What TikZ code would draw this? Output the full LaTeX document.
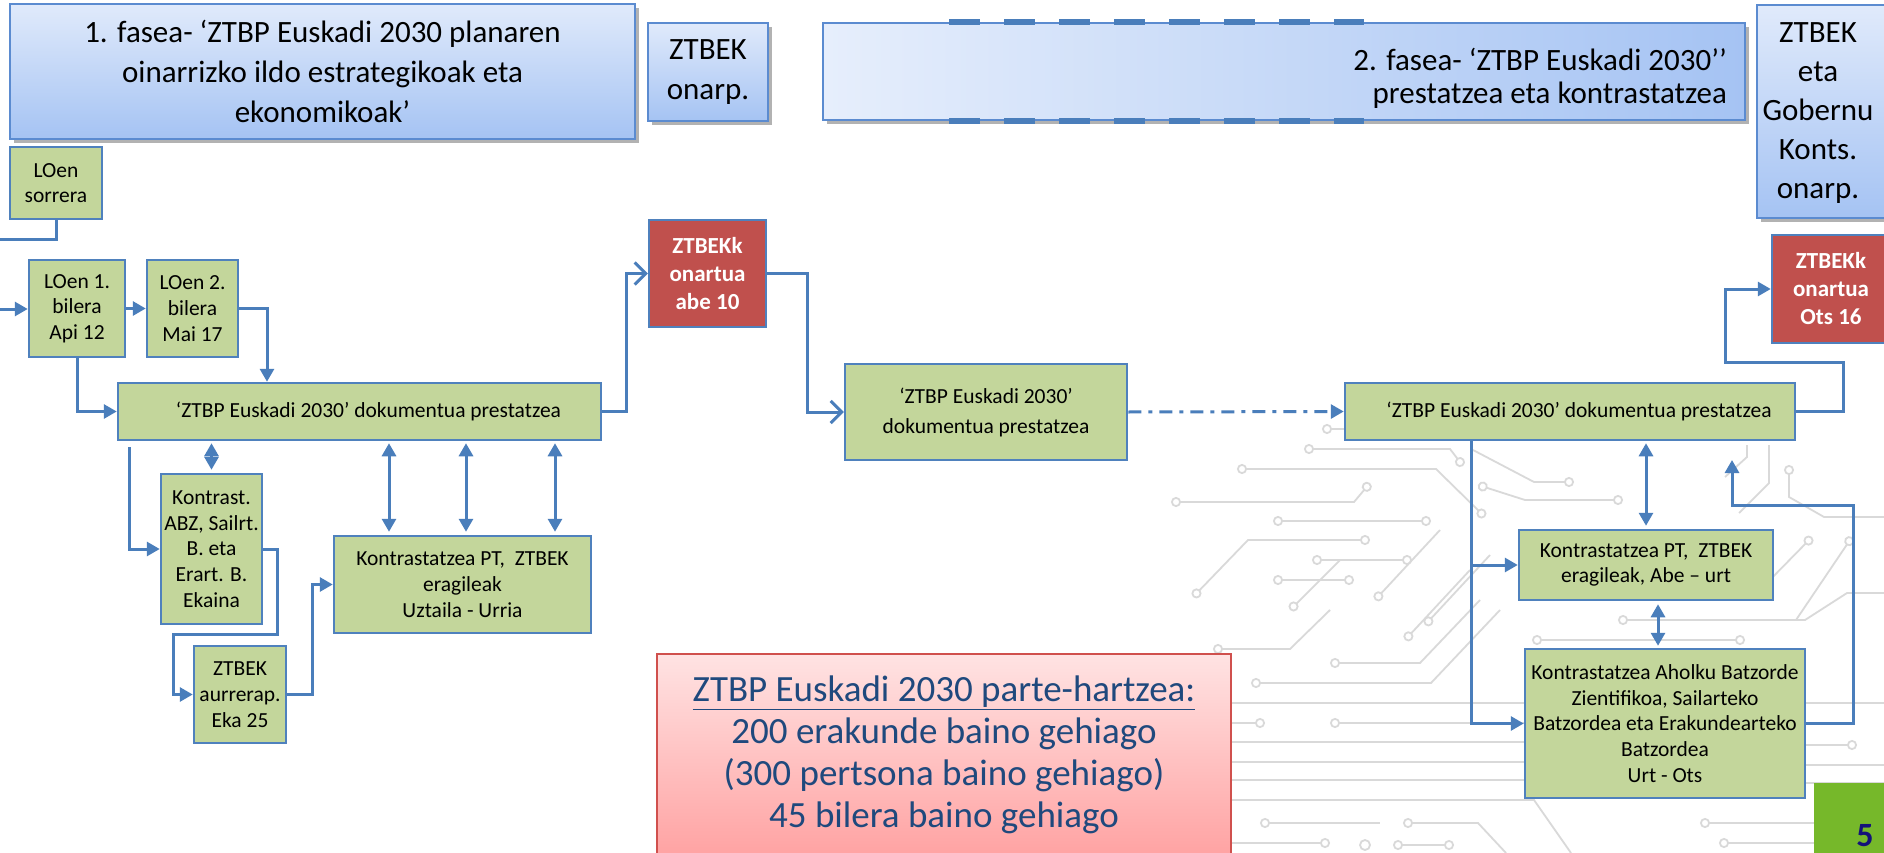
\documentclass[tikz,border=0pt]{standalone}
\usepackage{fontspec}
\setmainfont{Carlito}
\usetikzlibrary{arrows.meta,shadows,calc}
\definecolor{gfill}{HTML}{C3D69B}
\definecolor{bord}{HTML}{4F81BD}
\definecolor{cblue}{HTML}{4A7EBB}
\definecolor{rfill}{HTML}{C0504D}
\definecolor{ptop}{HTML}{E0EAFB}
\definecolor{pbot}{HTML}{A5C3F3}
\definecolor{pbord}{HTML}{5B8BD0}
\definecolor{pinktop}{HTML}{FFE3E3}
\definecolor{pinkbot}{HTML}{FF9E9E}
\definecolor{pinkbord}{HTML}{D0504D}
\definecolor{ptext}{HTML}{1F497D}
\definecolor{fivefill}{HTML}{76B82A}
\definecolor{fivetext}{HTML}{14127A}
\definecolor{cgray}{HTML}{D9D9D9}
\tikzset{
  oc/.tip={Circle[open,length=10pt,width=10pt,fill=white]},
  ckt/.style={draw=cgray, line width=1.8pt},
  gbox/.style={draw=bord, line width=2.5pt, fill=gfill, align=center, inner sep=0pt,
    font=\fontsize{21.5}{25.7}\selectfont, text=black},
  rbox/.style={draw=bord, line width=2.5pt, fill=rfill, align=center, inner sep=0pt,
    text=white, font=\bfseries\fontsize{23}{28}\selectfont},
  pbox/.style={draw=pbord, line width=2pt, top color=ptop, bottom color=pbot,
    drop shadow={shadow xshift=4pt, shadow yshift=-4pt, opacity=0.3, fill=black},
    align=center, inner sep=0pt, font=\fontsize{31}{40}\selectfont},
  conn/.style={draw=cblue, line width=3pt},
  arr/.style={conn, -{Triangle[length=13pt,width=14pt]}},
  darr/.style={conn, {Triangle[length=13pt,width=14pt]}-{Triangle[length=13pt,width=14pt]}, shorten <=3pt, shorten >=2pt},
  oarr/.style={conn, -{Straight Barb[length=11pt,width=22pt]}},
}
\begin{document}
\begin{tikzpicture}[x=1pt,y=-1pt]
\useasboundingbox (0,0) rectangle (1884,853);
\fill[white] (0,0) rectangle (1884,853);

% ---- circuit background ----
\draw[ckt, oc-oc] (1304,449) -- (1450,449) -- (1463,466);
\draw[ckt, oc-oc] (1237,469) -- (1436,469) -- (1485,517);
\draw[ckt, oc-oc] (1171,502) -- (1354,502) -- (1370,483);
\draw[ckt, oc-oc] (1273,521) -- (1431,521);
\draw[ckt, oc-oc] (1370,540) -- (1248,540) -- (1193,597);
\draw[ckt, oc-oc] (1312,560) -- (1412,560);
\draw[ckt, oc-oc] (1273,580) -- (1354,580);
\draw[ckt, oc-] (1322,429) -- (1345,429);
\draw[ckt, oc-] (1330,663) -- (1420,663) -- (1480,600);
\draw[ckt, oc-] (1251,683) -- (1431,683) -- (1500,610);
\draw[ckt, oc-] (1181,686) -- (1231,686);
\draw[ckt, oc-] (1213,649) -- (1290,649) -- (1330,610);
\draw[ckt] (1231,703) -- (1525,703);
\draw[ckt, -oc] (1231,723) -- (1265,723);
\draw[ckt, oc-] (1330,723) -- (1525,723);
\draw[ckt] (1231,742) -- (1525,742);
\draw[ckt] (1231,762) -- (1525,762);
\draw[ckt] (1231,780) -- (1525,780);
\draw[ckt] (1231,800) -- (1534,800) -- (1571,853);
\draw[ckt, oc-] (1403,823) -- (1478,823) -- (1506,853);
\draw[ckt, oc-] (1700,823) -- (1815,823);
\draw[ckt, oc-] (1719,843) -- (1815,843);
\draw[ckt, oc-oc] (1393,845) -- (1454,845);
\draw[ckt] (1365,845) circle (5);
\draw[ckt, oc-] (1260,823) -- (1380,823);
\draw[ckt, -oc] (1231,843) -- (1330,843);
\draw[ckt, -oc] (1473,450) -- (1534,482) -- (1574,482);
\draw[ckt, oc-oc] (1478,485) -- (1525,500) -- (1623,500);
\draw[ckt, oc-] (1789,465) -- (1789,497) -- (1824,517) -- (1884,517);
\draw[ckt] (1747,445) -- (1747,457) -- (1725,477);
\draw[ckt] (1769,445) -- (1769,483) -- (1739,513);
\draw[ckt, oc-] (1812,537) -- (1763,587) -- (1700,587);
\draw[ckt, oc-] (1852,537) -- (1796,620);
\draw[ckt, oc-] (1618,620) -- (1805,620) -- (1847,593) -- (1884,593);
\draw[ckt, oc-oc] (1532,640) -- (1745,640);
\draw[ckt, -oc] (1805,745) -- (1857,745);
\draw[ckt] (1805,703) -- (1884,703);
\draw[ckt] (1805,765) -- (1884,765);
\draw[ckt] (1805,783) -- (1884,783);
\draw[ckt, oc-] (1405,640) -- (1470,570);
\draw[ckt, oc-] (1425,625) -- (1490,555);
\draw[ckt, oc-] (1375,600) -- (1440,530);
\draw[ckt, oc-] (1290,610) -- (1340,560);

% ---- top phase boxes ----
\node[pbox, minimum width=625pt, minimum height=135pt] (ph1) at (322.5,71.5)
  {1. fasea- ‘ZTBP Euskadi 2030 planaren\\oinarrizko ildo estrategikoak eta\\ekonomikoak’};
\node[pbox, minimum width=120pt, minimum height=98pt] (on1) at (708,72) {ZTBEK\\onarp.};
\node[pbox, shading angle=0, left color=ptop!80!white, right color=pbot, minimum width=922pt, minimum height=97pt] (ph2) at (1284,71.5) {};
\node[anchor=east, align=right, inner sep=0pt, font=\fontsize{31}{33}\selectfont] (ph2t) at (1727,78.5)
  {2. fasea- ‘ZTBP Euskadi 2030’’\\prestatzea eta kontrastatzea};
\draw[cblue, line width=6pt, dash pattern=on 31pt off 24pt] (ph2.north -| 949,0) -- (ph2.north -| 1364,0);
\draw[cblue, line width=6pt, dash pattern=on 31pt off 24pt] (ph2.south -| 949,0) -- (ph2.south -| 1364,0);
\node[pbox, minimum width=146pt, minimum height=213pt] (on2) at (1830,111.5) {};
\node[align=center, inner sep=0pt, font=\fontsize{31}{39}\selectfont] (on2t) at (1818,113)
  {ZTBEK\\eta\\Gobernu\\Konts.\\onarp.};

% ---- left flow ----
\node[gbox, minimum width=92pt, minimum height=72pt] (sor) at (56,183) {LOen\\sorrera};
\node[gbox, minimum width=96pt, minimum height=97pt] (lo1) at (77,308.5) {LOen 1.\\bilera\\Api 12};
\node[gbox, minimum width=91pt, minimum height=97pt] (lo2) at (192.5,308.5) {LOen 2.\\bilera\\Mai 17};
\node[gbox, minimum width=483pt, minimum height=57pt] (doc1) at (359.5,411.5) {\hspace*{18pt}‘ZTBP Euskadi 2030’ dokumentua prestatzea};
\node[rbox, minimum width=117pt, minimum height=107pt] (red1) at (707.5,273.5) {ZTBEKk\\onartua\\abe 10};
\node[gbox, minimum width=101pt, minimum height=150pt] (kon) at (211.5,549) {Kontrast.\\ABZ, Sailrt.\\B. eta\\Erart. B.\\Ekaina};
\node[gbox, minimum width=92pt, minimum height=97pt] (aur) at (240,694.5) {ZTBEK\\aurrerap.\\Eka 25};
\node[gbox, minimum width=257pt, minimum height=97pt] (kpt) at (462.5,584.5) {Kontrastatzea PT,~ ZTBEK\\eragileak\\Uztaila - Urria};

% ---- middle / right flow ----
\node[gbox, font=\fontsize{21.5}{30}\selectfont, minimum width=282pt, minimum height=96pt] (doc2) at (986,412) {‘ZTBP Euskadi 2030’\\dokumentua prestatzea};
\node[gbox, minimum width=450pt, minimum height=57pt] (doc3) at (1570,411.5) {\hspace*{18pt}‘ZTBP Euskadi 2030’ dokumentua prestatzea};
\node[rbox, minimum width=118pt, minimum height=108pt] (red2) at (1831,289) {ZTBEKk\\onartua\\Ots 16};
\node[gbox, minimum width=254pt, minimum height=70pt] (abe) at (1646,565) {Kontrastatzea PT,~ ZTBEK\\eragileak, Abe – urt};
\node[gbox, minimum width=280pt, minimum height=149pt] (ahol) at (1665,723.5) {Kontrastatzea Aholku Batzorde\\Zientifikoa, Sailarteko\\Batzordea eta Erakundearteko\\Batzordea\\Urt - Ots};

% ---- participation box ----
\node[draw=pinkbord, line width=1.5pt, top color=pinktop, bottom color=pinkbot, inner sep=0pt,
  minimum width=574pt, minimum height=216pt] (part) at (944,762) {};
\node[align=center, inner sep=0pt, text=ptext, font=\fontsize{37}{42}\selectfont] (partt) at (944,755)
  {\underline{ZTBP Euskadi 2030 parte-hartzea:}\\200 erakunde baino gehiago\\(300 pertsona baino gehiago)\\45 bilera baino gehiago};

% ---- page number ----
\node[fill=fivefill, inner sep=0pt, minimum width=80pt, minimum height=80pt] (five) at (1854,823) {};
\node[inner sep=0pt, text=fivetext, font=\bfseries\fontsize{34}{34}\selectfont] (fivet) at (1865,836) {5};

% ---- helper coordinates ----
\coordinate (offA) at (0,239);
\coordinate (offB) at (0,309);
\coordinate (x267) at (267,0);
\coordinate (s1) at (129,447);
\coordinate (k2) at (277,634);
\coordinate (k3) at (173,634);
\coordinate (d1) at (389,0);
\coordinate (d2) at (466,0);
\coordinate (d3) at (555,0);
\coordinate (q1) at (1843,362);
\coordinate (q2) at (1725,362);
\coordinate (v1) at (1471,0);
\coordinate (r1) at (1853,505);
\coordinate (r2) at (1732,505);
\coordinate (r3) at (1732,460);
\coordinate (w1) at (1658,0);

% ---- connectors ----
\draw[conn] (sor.south) |- (offA);
\draw[arr] (offB) -- (lo1.west |- offB);
\draw[arr] (lo1.east) -- (lo2.west);
\draw[arr] (lo2.east) -| (x267 |- doc1.north);
\draw[arr] (lo1.south) |- (doc1.west);
\draw[oarr] (doc1.east) -- ++(24,0) |- (red1.west);
\draw[oarr] (red1.east) -- ++(40,0) |- (doc2.west);
\draw[conn, dash pattern=on 13pt off 7pt on 4pt off 7pt, -{Triangle[length=13pt,width=14pt]}] (doc2.east) -- (doc3.west);
\draw[arr] (doc3.east) -| (q1) -- (q2) |- (red2.west);
\draw[darr] (kon.north) -- (kon.north |- doc1.south);
\draw[darr] (d1 |- kpt.north) -- (d1 |- doc1.south);
\draw[darr] (d2 |- kpt.north) -- (d2 |- doc1.south);
\draw[darr] (d3 |- kpt.north) -- (d3 |- doc1.south);
\draw[arr] (s1) |- (kon.west);
\draw[arr] (kon.east) -| (k2) -- (k3) |- (aur.west);
\draw[arr] (aur.east) -- ++(25,0) |- (kpt.west);
\draw[arr] (v1 |- doc3.south) |- (abe.west);
\draw[arr] (v1 |- doc3.south) |- (ahol.west);
\draw[darr] (abe.north) -- (abe.north |- doc3.south);
\draw[darr] (w1 |- abe.south) -- (w1 |- ahol.north);
\draw[arr] (ahol.east) -| (r1) -- (r2) -- (r3);
\end{tikzpicture}
\end{document}
